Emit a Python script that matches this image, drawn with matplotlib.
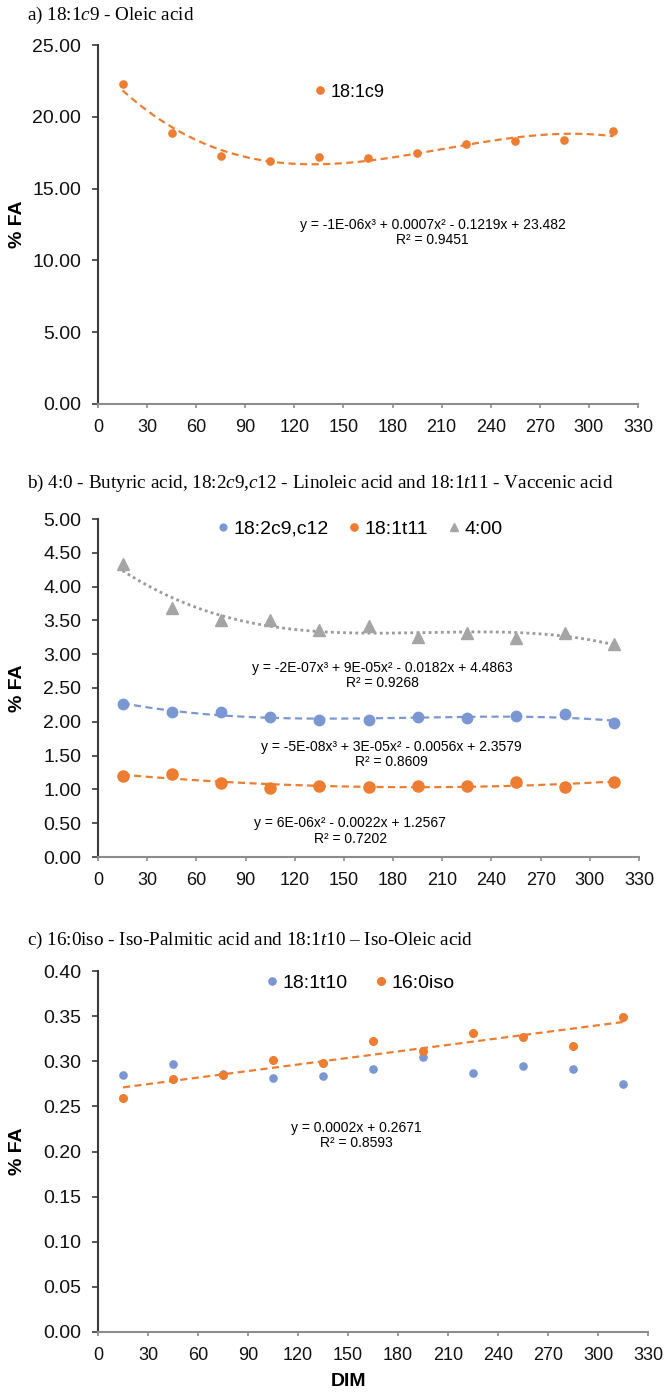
import matplotlib
matplotlib.use("Agg")
import matplotlib.pyplot as plt
import numpy as np

plt.rcParams['font.family'] = ['Liberation Sans', 'DejaVu Sans']
plt.rcParams['mathtext.fontset'] = 'custom'
plt.rcParams['mathtext.rm'] = 'Liberation Serif'
plt.rcParams['mathtext.it'] = 'Liberation Serif:italic'

# days in milk
dim = [15, 45, 75, 105, 135, 165, 195, 225, 255, 285, 315]

# a) oleic acid
oleic = [22.25, 18.85, 17.25, 16.9, 17.2, 17.15, 17.45, 18.1, 18.3, 18.4, 19.0]

# b) butyric, linoleic, vaccenic
butyric = [4.34, 3.68, 3.51, 3.50, 3.36, 3.42, 3.26, 3.31, 3.24, 3.31, 3.15]
linoleic = [2.27, 2.14, 2.15, 2.07, 2.02, 2.03, 2.07, 2.05, 2.08, 2.12, 1.98]
vaccenic = [1.20, 1.23, 1.09, 1.02, 1.05, 1.03, 1.05, 1.05, 1.11, 1.04, 1.11]

# c) iso-oleic, iso-palmitic
t10 = [0.285, 0.297, 0.286, 0.281, 0.284, 0.291, 0.305, 0.287, 0.295, 0.291, 0.275]
iso = [0.259, 0.280, 0.285, 0.301, 0.298, 0.322, 0.311, 0.331, 0.327, 0.317, 0.349]

eq_a = "y = -1E-06x³ + 0.0007x² - 0.1219x + 23.482\nR² = 0.9451"
eq_b1 = "y = -2E-07x³ + 9E-05x² - 0.0182x + 4.4863\nR² = 0.9268"
eq_b2 = "y = -5E-08x³ + 3E-05x² - 0.0056x + 2.3579\nR² = 0.8609"
eq_b3 = "y = 6E-06x² - 0.0022x + 1.2567\nR² = 0.7202"
eq_c = "y = 0.0002x + 0.2671\nR² = 0.8593"

ORANGE = "#ED7D31"
BLUE = "#7B97D2"
GREY = "#A5A5A5"
DASH = (0, (3.2, 2))

W, H = 664, 1394
fig = plt.figure(figsize=(W / 100, H / 100), dpi=100)


def px_axes(left, right, top, bottom):
    return fig.add_axes([left / W, 1 - bottom / H, (right - left) / W, (bottom - top) / H])


def style(ax, ymax, ystep, ylab_x):
    ax.set_xlim(0, 330)
    ax.set_xticks(range(0, 331, 30))
    ax.set_ylim(0, ymax)
    ax.set_yticks(np.arange(0, ymax + ystep / 2, ystep))
    ax.yaxis.set_major_formatter(matplotlib.ticker.FormatStrFormatter("%.2f"))
    for s in ("top", "right"):
        ax.spines[s].set_visible(False)
    ax.spines["left"].set_color("#3a3a3a")
    ax.spines["left"].set_linewidth(1.5)
    ax.spines["bottom"].set_color("#8c8c8c")
    ax.spines["bottom"].set_linewidth(1.5)
    ax.tick_params(axis="y", direction="out", length=4, width=1.2, color="#3a3a3a",
                   pad=8, labelsize=14, labelcolor="#111111")
    ax.tick_params(axis="x", direction="out", length=3, width=1.2, color="#8c8c8c",
                   pad=8, labelsize=13, labelcolor="#111111")
    ax.set_ylabel("% FA", fontsize=14, fontweight="bold")
    ax.yaxis.set_label_coords(ylab_x, 0.5)


def trend(ax, y, deg, **kw):
    coef = np.polyfit(dim, y, deg)
    xs = np.linspace(dim[0], dim[-1], 200)
    ax.plot(xs, np.polyval(coef, xs), **kw)


def title(y, s):
    fig.text(27 / W, 1 - y / H, s, fontfamily="Liberation Serif", fontsize=13.8,
             ha="left", va="center")


# ---- panel a
ax = px_axes(98, 638, 45, 404)
style(ax, 25, 5, -0.133)
trend(ax, oleic, 3, color=ORANGE, lw=1.6, ls=DASH)
ax.plot(dim, oleic, "o", color=ORANGE, ms=5.2, label="18:1c9")
ax.legend(loc="center", bbox_to_anchor=(0.463, 0.869), frameon=False, fontsize=13,
          handletextpad=0.1, handlelength=1.0)
ax.text(0.62, 0.478, eq_a, transform=ax.transAxes, ha="center", va="center",
        fontsize=10, linespacing=1.1)
title(15, r"a) 18:1$\mathit{c}$9 - Oleic acid")

# ---- panel b
ax = px_axes(98, 639, 519, 857)
style(ax, 5, 0.5, -0.133)
trend(ax, butyric, 3, color="#9a9a9a", lw=2.0, ls=(0, (1, 1.2)))
trend(ax, linoleic, 3, color=BLUE, lw=1.6, ls=DASH)
trend(ax, vaccenic, 2, color=ORANGE, lw=1.6, ls=DASH)
ax.plot(dim, linoleic, "o", color=BLUE, ms=7.5, label="18:2c9,c12")
ax.plot(dim, vaccenic, "o", color=ORANGE, ms=8, label="18:1t11")
ax.plot(dim, butyric, "^", color=GREY, ms=9, label="4:00")
ax.legend(loc="center", bbox_to_anchor=(0.48, 0.970), frameon=False, fontsize=14,
          ncol=3, handletextpad=0.05, handlelength=1.0, columnspacing=0.8,
          markerscale=0.65)
ax.text(0.525, 0.537, eq_b1, transform=ax.transAxes, ha="center", va="center",
        fontsize=10, linespacing=1.1)
ax.text(0.543, 0.303, eq_b2, transform=ax.transAxes, ha="center", va="center",
        fontsize=10, linespacing=1.1)
ax.text(0.466, 0.077, eq_b3, transform=ax.transAxes, ha="center", va="center",
        fontsize=10, linespacing=1.1)
title(483, r"b) 4:0 - Butyric acid, 18:2$\mathit{c}$9,$\mathit{c}$12 - Linoleic acid"
           r" and 18:1$\mathit{t}$11 - Vaccenic acid")

# ---- panel c
ax = px_axes(98, 648, 971, 1332)
style(ax, 0.40, 0.05, -0.131)
ax.plot(dim, t10, "o", color=BLUE, ms=5.2, label="18:1t10")
trend(ax, iso, 1, color=ORANGE, lw=1.6, ls=DASH)
ax.plot(dim, iso, "o", color=ORANGE, ms=5.5, label="16:0iso")
ax.legend(loc="center", bbox_to_anchor=(0.473, 0.967), frameon=False, fontsize=14,
          ncol=2, handletextpad=0.05, handlelength=1.0, columnspacing=1.2)
ax.text(0.469, 0.544, eq_c, transform=ax.transAxes, ha="center", va="center",
        fontsize=10, linespacing=1.1)
title(940, r"c) 16:0iso - Iso-Palmitic acid and 18:1$\mathit{t}$10 – Iso-Oleic acid")
fig.text(348 / W, 1 - 1382 / H, "DIM", fontsize=14, fontweight="bold",
         ha="center", va="center")

fig.savefig("out.png", dpi=100)
